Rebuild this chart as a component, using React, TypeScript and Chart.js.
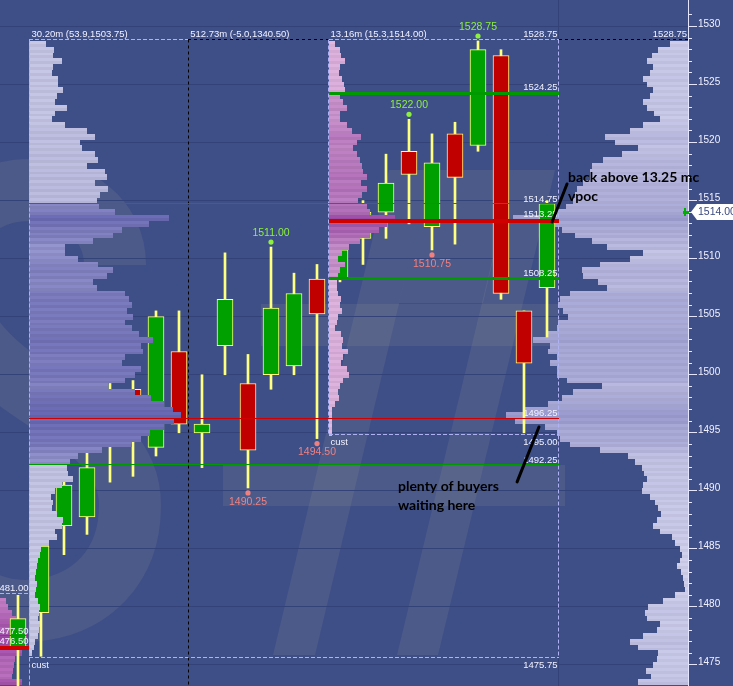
import { useEffect, useRef } from 'react';
import { Chart, registerables } from 'chart.js';

Chart.register(...registerables);

// ---------------- data ----------------
// x axis: one slot per bar; slot -1 belongs to the prior session
const barSlots = [-1, 0, 1, 2, 3, 4, 5, 6, 7, 8, 9, 10, 11, 12, 13, 14, 15, 16, 17, 18, 19, 20, 21, 22];
const barOpen = [1476.5, 1479.5, 1487, 1487.75, 1494.5, 1498.75, 1493.75, 1502, 1495, 1502.5, 1499.25, 1500, 1500.75, 1508.25, 1508.25, 1511.75, 1514, 1519.25, 1512.75, 1520.75, 1519.75, 1527.5, 1505.5, 1507.5];
const barHigh = [1481, 1485.5, 1490.75, 1493.25, 1499.25, 1499.5, 1505.5, 1505.5, 1500, 1510.5, 1501.75, 1511, 1508.75, 1509.5, 1511.25, 1515, 1519, 1522, 1520.75, 1521.75, 1528.75, 1528, 1505.5, 1515];
const barLow = [1472, 1475.75, 1484.5, 1486.25, 1490.75, 1491.25, 1493, 1495, 1492, 1500, 1490.25, 1498.75, 1500, 1494.5, 1508, 1509.5, 1511.75, 1513, 1510.75, 1511.25, 1519.25, 1506.5, 1495, 1503.25];
const barClose = [1479, 1485.25, 1490.5, 1492, 1497, 1496, 1505, 1495.75, 1495.75, 1506.5, 1493.5, 1505.75, 1507, 1505.25, 1510.75, 1514, 1516.5, 1517.25, 1518.25, 1517, 1528, 1507, 1501, 1514.75];

// axis ranges
const priceMin = 1473.19;
const priceMax = 1532.28;
const slotMin = -1.7826;
const slotMax = 28.1304;
const majorTickStep = 5;

// session layout (slot units)
const sessionStarts = [-0.5, 12.5];
const dayBreakSlot = 6.4;
const sessionEndSlot = 22.5;
const headerSlots = [-0.5, 6.4, 12.5];
const headerTexts = ['30.20m (53.9,1503.75)', '512.73m (-5.0,1340.50)', '13.16m (15.3,1514.00)'];

// session ranges
const sessionHigh = 1528.75;
const session1Low = 1475.75;
const session3Low = 1495.0;
const prevSessionHigh = 1481.0;

// value areas: [VAH, POC, VAL]
const session1ValueArea = [1514.75, 1496.25, 1492.25];
const session3ValueArea = [1524.25, 1513.25, 1508.25];
const prevValueArea = [1477.5, 1476.5];

// volume profiles (relative volume per half-point, from ladder top downward)
const ladderTop = 1528.5;
const ladderStep = 0.5;
const session1Volume = [
  17, 25, 24, 33, 24, 23, 29, 29, 34, 28,
  26, 38, 26, 23, 36, 58, 66, 51, 53, 66,
  69, 58, 76, 78, 66, 79, 71, 68, 70, 86,
  139, 119, 93, 84, 64, 36, 36, 49, 69, 84,
  78, 64, 68, 96, 100, 103, 98, 104, 96, 103,
  109, 123, 111, 113, 96, 93, 111, 106, 96, 79,
  106, 121, 134, 143, 151, 144, 134, 120, 111, 103,
  73, 49, 41, 38, 39, 44, 33, 26, 22, 24,
  23, 28, 34, 33, 26, 28, 20, 12, 11, 9,
  8, 7, 6, 8, 7, 6, 9, 11, 10, 9,
  11, 10, 9, 6, 5, 3,
];
const session3Volume = [
  6, 11, 12, 16, 11, 10, 13, 15, 16, 11,
  14, 18, 11, 11, 18, 23, 32, 28, 24, 28,
  31, 33, 34, 38, 32, 38, 33, 29, 38, 41,
  66, 58, 50, 41, 31, 20, 13, 9, 16, 11,
  9, 8, 8, 9, 12, 11, 13, 9, 8, 6,
  12, 14, 13, 19, 14, 12, 18, 20, 14, 11,
  9, 10, 6, 3, 3, 3, 3, 3,
];
const compositeVolume = [
  18, 30, 36, 41, 35, 38, 45, 41, 35, 38,
  45, 41, 34, 28, 45, 58, 83, 73, 50, 66,
  85, 96, 98, 98, 105, 111, 113, 115, 122, 131,
  175, 140, 126, 113, 96, 81, 45, 58, 88, 106,
  105, 90, 81, 118, 128, 130, 125, 120, 130, 131,
  140, 155, 138, 140, 131, 138, 131, 131, 121, 86,
  115, 126, 140, 165, 182, 173, 143, 131, 128, 118,
  88, 60, 53, 46, 44, 41, 45, 46, 38, 33,
  30, 27, 31, 35, 28, 16, 13, 8, 6, 8,
  11, 7, 5, 4, 3, 13, 25, 40, 43, 41,
  28, 31, 45, 58, 50, 30, 31, 35, 42, 37, 50,
];
const prevLadderTop = 1480.5;
const prevVolume = [6, 8, 12, 16, 21, 18, 27, 26, 28, 22, 15, 14, 13, 12, 22];
const volumeToSlot = 1 / 23;

const swingHighSlots = [19, 16, 10];
const swingLowSlots = [17, 12, 9];

const lastPrice = 1514.0;

const noteLines = [['back above 13.25 mc', 'vpoc'], ['plenty of buyers', 'waiting here']];
const noteAnchors = [[22.91, 1516.95], [15.52, 1490.34]];
const noteArrows = [[22.87, 1516.43, 22.22, 1513.16], [21.65, 1495.5, 20.7, 1490.77]];

// ---------------- styles ----------------
const BG = '#3e4f88';
const GRID = '#33437a';
const LAV = '#aeb2f2';
const GREEN_BODY = '#00a000';
const RED_BODY = '#c00000';
const WICK = '#ffff80';
const LINE_GREEN = '#009a00';
const LINE_RED = '#d00000';
const TXT = '#f2f2ff';
const FONT = '"Liberation Sans", Arial, sans-serif';

function rgb(h: string) {
  return [1, 3, 5].map((i) => parseInt(h.slice(i, i + 2), 16));
}
function mix(a: string, b: string, t: number, dark = 1) {
  const A = rgb(a);
  const B = rgb(b);
  const c = A.map((v, i) => Math.round((v + (B[i] - v) * t) * dark));
  return `rgb(${c[0]},${c[1]},${c[2]})`;
}

function drawProfile(chart: any, top: number, vols: number[], base: number, dir: number, color: (p: number, t: number, h: number) => string) {
  const { ctx } = chart;
  const xs = chart.scales.x;
  const ys = chart.scales.y;
  const maxV = Math.max(...vols);
  const x0 = xs.getPixelForValue(base);
  vols.forEach((v, i) => {
    const p = top - i * ladderStep;
    const yA = Math.round(ys.getPixelForValue(p + ladderStep / 2));
    const yM = Math.round(ys.getPixelForValue(p));
    const yB = Math.round(ys.getPixelForValue(p - ladderStep / 2));
    const x1 = xs.getPixelForValue(base + dir * v * volumeToSlot);
    const l = Math.round(Math.min(x0, x1));
    const r = Math.round(Math.max(x0, x1));
    const t = v / maxV;
    ctx.fillStyle = color(p, t, 0);
    ctx.fillRect(l, yA, r - l, yM - yA);
    ctx.fillStyle = color(p, t, 1);
    ctx.fillRect(l, yM, r - l, yB - yM);
  });
}

function hLine(chart: any, p: number, s0: number, s1: number, color: string, width: number, dash: number[] = []) {
  const { ctx } = chart;
  const xs = chart.scales.x;
  const ys = chart.scales.y;
  const y = ys.getPixelForValue(p);
  const yy = width % 2 === 1 ? Math.floor(y) + 0.5 : Math.round(y);
  ctx.strokeStyle = color;
  ctx.lineWidth = width;
  ctx.setLineDash(dash);
  ctx.beginPath();
  ctx.moveTo(Math.round(xs.getPixelForValue(s0)), yy);
  ctx.lineTo(Math.round(xs.getPixelForValue(s1)), yy);
  ctx.stroke();
  ctx.setLineDash([]);
}

function vLine(chart: any, s: number, y0: number, y1: number, color: string, dash: number[]) {
  const { ctx } = chart;
  const x = Math.floor(chart.scales.x.getPixelForValue(s)) + 0.5;
  ctx.strokeStyle = color;
  ctx.lineWidth = 1;
  ctx.setLineDash(dash);
  ctx.beginPath();
  ctx.moveTo(x, y0);
  ctx.lineTo(x, y1);
  ctx.stroke();
  ctx.setLineDash([]);
}

const marketPlugin = {
  id: 'market',
  beforeDraw(chart: any) {
    const { ctx, chartArea: ca } = chart;
    ctx.save();
    ctx.fillStyle = BG;
    ctx.fillRect(0, 0, chart.width, chart.height);
    // faint watermark logo
    ctx.beginPath();
    ctx.rect(ca.left, ca.top, ca.right - ca.left, ca.bottom - ca.top);
    ctx.clip();
    const L = ca.left;
    const T = ca.top;
    ctx.fillStyle = 'rgba(190,180,150,0.11)';
    ctx.strokeStyle = 'rgba(190,180,150,0.11)';
    ctx.lineWidth = 62;
    ctx.beginPath();
    ctx.moveTo(L + 115, T + 265);
    ctx.bezierCurveTo(L + 115, T + 170, L - 50, T + 160, L - 50, T + 265);
    ctx.bezierCurveTo(L - 50, T + 400, L + 130, T + 400, L + 130, T + 505);
    ctx.bezierCurveTo(L + 130, T + 635, L - 40, T + 635, L - 50, T + 560);
    ctx.stroke();
    const poly = (pts: number[][]) => {
      ctx.beginPath();
      pts.forEach((p, i) => (i ? ctx.lineTo(L + p[0], T + p[1]) : ctx.moveTo(L + p[0], T + p[1])));
      ctx.closePath();
      ctx.fill();
    };
    poly([[273, 655], [315, 655], [431, 170], [389, 170]]);
    poly([[397, 655], [438, 655], [555, 170], [514, 170]]);
    poly([[431, 170], [514, 170], [483, 303], [399, 303]]);
    poly([[223, 465], [565, 465], [565, 506], [223, 506]]);
    poly([[261, 304], [560, 304], [560, 346], [261, 346]]);
    ctx.restore();
  },
  beforeDatasetsDraw(chart: any) {
    const { ctx, chartArea: ca } = chart;
    ctx.save();
    ctx.beginPath();
    ctx.rect(ca.left, ca.top, ca.right - ca.left, ca.bottom - ca.top);
    ctx.clip();
    vLine(chart, sessionEndSlot, ca.top, ca.bottom, GRID, []);
    drawProfile(chart, ladderTop, compositeVolume, slotMax, -1, (_p, t, h) => mix('#d2d2ee', '#9c9cd0', t, h ? 0.96 : 1));
    drawProfile(chart, prevLadderTop, prevVolume, slotMin, 1, (_p, t, h) => mix('#cc8ccc', '#a048a8', t, h ? 0.94 : 1));
    ctx.restore();
  },
  afterDatasetsDraw(chart: any) {
    const { ctx, chartArea: ca } = chart;
    const xs = chart.scales.x;
    const ys = chart.scales.y;
    const X = (s: number) => xs.getPixelForValue(s);
    const Y = (p: number) => ys.getPixelForValue(p);
    ctx.save();
    ctx.beginPath();
    ctx.rect(ca.left, ca.top, ca.right - ca.left, ca.bottom - ca.top);
    ctx.clip();

    // session profiles (drawn over the bars)
    const [v1h, , v1l] = session1ValueArea;
    drawProfile(chart, ladderTop, session1Volume, sessionStarts[0], 1, (p, t, h) =>
      p <= v1h && p >= v1l ? mix('#a2a2d6', '#6868b4', t, h ? 0.94 : 1) : mix('#cacae8', '#aeaed8', t, h ? 0.95 : 1)
    );
    const [v3h, , v3l] = session3ValueArea;
    drawProfile(chart, ladderTop, session3Volume, sessionStarts[1], 1, (p, t, h) =>
      p <= v3h && p >= v3l ? mix('#d4a4d6', '#a050aa', t, h ? 0.94 : 1) : mix('#e2bce2', '#c888c8', t, h ? 0.95 : 1)
    );

    // dashed session boxes
    const topY = Math.floor(Y(sessionHigh + 0.125)) + 0.5;
    const bot1 = Math.floor(Y(session1Low - 0.125)) + 0.5;
    const bot3 = Math.floor(Y(session3Low - 0.125)) + 0.5;
    const lightDash = [4, 2];
    const darkDash = [3, 3];
    hLine(chart, sessionHigh + 0.125, sessionStarts[0], dayBreakSlot, LAV, 1, lightDash);
    hLine(chart, sessionHigh + 0.125, dayBreakSlot, sessionStarts[1], '#000000', 1, darkDash);
    hLine(chart, sessionHigh + 0.125, sessionStarts[1], sessionEndSlot, LAV, 1, lightDash);
    hLine(chart, sessionHigh + 0.125, sessionEndSlot, slotMax, '#000000', 1, darkDash);
    hLine(chart, session1Low - 0.125, sessionStarts[0], sessionEndSlot, LAV, 1, lightDash);
    hLine(chart, session3Low - 0.125, sessionStarts[1], sessionEndSlot, LAV, 1, lightDash);
    hLine(chart, prevSessionHigh + 0.125, slotMin, sessionStarts[0], LAV, 1, lightDash);
    vLine(chart, sessionStarts[0], topY, ca.bottom, LAV, lightDash);
    vLine(chart, dayBreakSlot, topY, ca.bottom, '#000000', darkDash);
    vLine(chart, sessionStarts[1], topY, bot3, LAV, lightDash);
    vLine(chart, sessionEndSlot, topY, bot1, LAV, lightDash);

    // value area / poc lines
    const [s1vah, s1poc, s1val] = session1ValueArea;
    hLine(chart, s1vah, sessionStarts[0], sessionEndSlot, LINE_GREEN, 1);
    hLine(chart, s1poc, sessionStarts[0], sessionEndSlot, LINE_RED, 1);
    hLine(chart, s1val, sessionStarts[0], sessionEndSlot, LINE_GREEN, 1);
    const [s3vah, s3poc, s3val] = session3ValueArea;
    hLine(chart, s3vah, sessionStarts[1], sessionEndSlot, LINE_GREEN, 3);
    hLine(chart, s3poc, sessionStarts[1], sessionEndSlot, LINE_RED, 4);
    hLine(chart, s3val, sessionStarts[1], sessionEndSlot, LINE_GREEN, 3);
    hLine(chart, prevValueArea[0], slotMin, sessionStarts[0], LINE_GREEN, 1);
    hLine(chart, prevValueArea[1], slotMin, sessionStarts[0], LINE_RED, 4);

    // small white labels
    ctx.font = `9.5px ${FONT}`;
    ctx.fillStyle = TXT;
    ctx.textBaseline = 'alphabetic';
    ctx.textAlign = 'left';
    headerTexts.forEach((t, i) => ctx.fillText(t, X(headerSlots[i]) + 2, topY - 3));
    ctx.textAlign = 'right';
    const hiTxt = sessionHigh.toFixed(2);
    ctx.fillText(hiTxt, X(sessionEndSlot) - 1, topY - 3);
    ctx.fillText(hiTxt, X(slotMax) - 1, topY - 3);
    const lvl = (p: number, w: number, s: number) => ctx.fillText(p.toFixed(2), X(s) - 1, Y(p) - w / 2 - 1.5);
    lvl(s3vah, 3, sessionEndSlot);
    lvl(s1vah, 1, sessionEndSlot);
    lvl(s3poc, 4, sessionEndSlot);
    lvl(s3val, 3, sessionEndSlot);
    lvl(s1poc, 1, sessionEndSlot);
    lvl(s1val, 1, sessionEndSlot);
    lvl(prevValueArea[0], 1, sessionStarts[0]);
    lvl(prevValueArea[1], 4, sessionStarts[0]);
    ctx.fillText(prevSessionHigh.toFixed(2), X(sessionStarts[0]) - 1, Y(prevSessionHigh + 0.125) - 3);
    ctx.textBaseline = 'top';
    ctx.fillText(session3Low.toFixed(2), X(sessionEndSlot) - 1, bot3 + 3);
    ctx.fillText(session1Low.toFixed(2), X(sessionEndSlot) - 1, bot1 + 3);
    ctx.textAlign = 'left';
    ctx.fillText('cust', X(sessionStarts[1]) + 2, bot3 + 3);
    ctx.fillText('cust', X(sessionStarts[0]) + 2, bot1 + 3);

    // swing high / low marks
    ctx.font = `10.5px ${FONT}`;
    ctx.textAlign = 'center';
    ctx.textBaseline = 'middle';
    swingHighSlots.forEach((s) => {
      const i = barSlots.indexOf(s);
      const x = X(s);
      const y = Y(barHigh[i]);
      ctx.fillStyle = '#8cf03c';
      ctx.beginPath();
      ctx.arc(x, y - 5, 2.6, 0, Math.PI * 2);
      ctx.fill();
      ctx.fillText(barHigh[i].toFixed(2), x, y - 14);
    });
    swingLowSlots.forEach((s) => {
      const i = barSlots.indexOf(s);
      const x = X(s);
      const y = Y(barLow[i]);
      ctx.fillStyle = '#f08080';
      ctx.beginPath();
      ctx.arc(x, y + 5, 2.6, 0, Math.PI * 2);
      ctx.fill();
      ctx.fillText(barLow[i].toFixed(2), x, y + 14);
    });
    ctx.restore();
  },
  afterDraw(chart: any) {
    const { ctx, chartArea: ca } = chart;
    const xs = chart.scales.x;
    const ys = chart.scales.y;
    ctx.save();
    // axis line, tick marks and labels from the y scale's ticks
    ctx.strokeStyle = '#e4e6ff';
    ctx.lineWidth = 1;
    ctx.beginPath();
    ctx.moveTo(ca.right + 0.5, 0);
    ctx.lineTo(ca.right + 0.5, chart.height);
    ctx.stroke();
    ctx.font = `10px ${FONT}`;
    ctx.fillStyle = TXT;
    ctx.textAlign = 'left';
    ctx.textBaseline = 'middle';
    ys.ticks.forEach((t: any) => {
      if (!Number.isInteger(t.value)) return;
      const y = Math.floor(ys.getPixelForValue(t.value)) + 0.5;
      const major = t.value % majorTickStep === 0;
      ctx.beginPath();
      ctx.moveTo(ca.right, y);
      ctx.lineTo(ca.right + (major ? 9 : 4), y);
      ctx.stroke();
      if (major && t.label) ctx.fillText(String(t.label), ca.right + 10, y - 2);
    });
    // last price marker
    const py = Math.round(ys.getPixelForValue(lastPrice));
    ctx.fillStyle = '#ffffff';
    ctx.beginPath();
    ctx.moveTo(ca.right + 3, py);
    ctx.lineTo(ca.right + 9, py - 8);
    ctx.lineTo(chart.width, py - 8);
    ctx.lineTo(chart.width, py + 8);
    ctx.lineTo(ca.right + 9, py + 8);
    ctx.closePath();
    ctx.fill();
    ctx.fillStyle = '#00b000';
    ctx.fillRect(ca.right - 5, py - 1, 6, 3);
    ctx.fillRect(ca.right - 4, py - 4, 2, 8);
    ctx.fillStyle = '#3a4a80';
    ctx.font = `10.5px ${FONT}`;
    ctx.textAlign = 'left';
    ctx.textBaseline = 'middle';
    ctx.fillText(lastPrice.toFixed(2), ca.right + 10, py + 0.5);

    // hand-drawn notes
    ctx.strokeStyle = '#000000';
    ctx.lineWidth = 3;
    ctx.lineCap = 'round';
    noteArrows.forEach(([s0, p0, s1, p1]) => {
      ctx.beginPath();
      ctx.moveTo(xs.getPixelForValue(s0), ys.getPixelForValue(p0));
      ctx.lineTo(xs.getPixelForValue(s1), ys.getPixelForValue(p1));
      ctx.stroke();
    });
    ctx.fillStyle = '#000000';
    ctx.font = `bold 14px Lato, "Open Sans", sans-serif`;
    ctx.textAlign = 'left';
    ctx.textBaseline = 'middle';
    noteLines.forEach((lines, i) => {
      const x = xs.getPixelForValue(noteAnchors[i][0]);
      const y = ys.getPixelForValue(noteAnchors[i][1]);
      lines.forEach((l, j) => ctx.fillText(l, x, y + j * 18.5));
    });
    ctx.restore();
  },
};

export default function App() {
  const ref = useRef<HTMLCanvasElement>(null);
  useEffect(() => {
    const canvas = ref.current;
    if (!canvas) return;
    const isUp = barSlots.map((_, i) => barClose[i] >= barOpen[i]);
    const chart = new Chart(canvas, {
      type: 'bar',
      data: {
        datasets: [
          {
            label: 'body',
            data: barSlots.map((s, i) => ({ x: s, y: [barOpen[i], barClose[i]] })) as any,
            backgroundColor: isUp.map((u) => (u ? GREEN_BODY : RED_BODY)),
            borderColor: WICK,
            borderWidth: 1,
            borderSkipped: false,
            barThickness: 16,
            grouped: false,
            order: 0,
          } as any,
          {
            label: 'wick',
            data: barSlots.map((s, i) => ({ x: s, y: [barLow[i], barHigh[i]] })) as any,
            backgroundColor: WICK,
            borderWidth: 0,
            barThickness: 2,
            grouped: false,
            order: 1,
          } as any,
        ],
      },
      options: {
        responsive: false,
        maintainAspectRatio: false,
        animation: false,
        devicePixelRatio: 1,
        events: [],
        layout: { padding: 0, autoPadding: false } as any,
        plugins: { legend: { display: false }, tooltip: { enabled: false } },
        scales: {
          x: {
            type: 'linear',
            display: false,
            min: slotMin,
            max: slotMax,
            offset: false,
            grid: { display: false, offset: false },
          },
          y: {
            type: 'linear',
            position: 'right',
            min: priceMin,
            max: priceMax,
            grid: {
              drawTicks: false,
              color: (c: any) =>
                c.tick && Number.isInteger(c.tick.value) && c.tick.value % majorTickStep === 0 ? GRID : 'rgba(0,0,0,0)',
              lineWidth: 1,
            },
            border: { display: false },
            ticks: {
              display: false,
              stepSize: 1,
              autoSkip: false,
              callback: (v: any) => (Number.isInteger(Number(v)) && Number(v) % majorTickStep === 0 ? String(v) : ''),
            },
            afterFit: (scale: any) => {
              scale.width = 45;
            },
          } as any,
        },
      },
      plugins: [marketPlugin],
    });
    return () => chart.destroy();
  }, []);
  return (
    <div style={{ position: 'fixed', left: 0, top: 0, width: 733, height: 686, background: BG }}>
      <canvas ref={ref} width={733} height={686} style={{ display: 'block', width: 733, height: 686 }} />
    </div>
  );
}
